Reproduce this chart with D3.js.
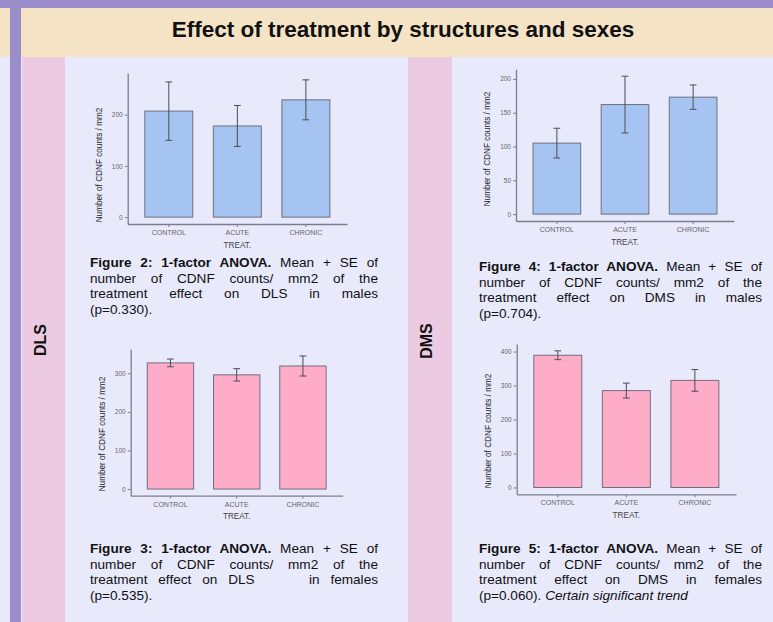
<!DOCTYPE html>
<html>
<head>
<meta charset="utf-8">
<script src="https://cdn.jsdelivr.net/npm/d3@7"></script>
<style>
  body { margin: 0; background: #e8eafc; font-family: "Liberation Sans", Arial, sans-serif; }
  #wrap { position: relative; width: 773px; height: 622px; overflow: hidden; }
  #wrap svg { position: absolute; left: 0; top: 0; }
  .cap { position: absolute; font-size: 13.6px; line-height: 15.6px; color: #111; }
  .cap div { text-align: justify; text-align-last: justify; white-space: normal; }
  .cap div.last { text-align-last: left; }
</style>
</head>
<body>
<div id="wrap"></div>
<script>
// treatments on the x axis
const treatments = ['CONTROL', 'ACUTE', 'CHRONIC'];

// mean and SE of CDNF counts / mm2
const dlsMaleMean = [207, 178, 229];
const dlsMaleSE   = [57, 40, 39];
const dmsMaleMean = [105, 162, 173];
const dmsMaleSE   = [22, 42, 18];
const dlsFemaleMean = [327, 296, 319];
const dlsFemaleSE   = [10, 16, 26];
const dmsFemaleMean = [389, 285, 315];
const dmsFemaleSE   = [13, 22, 32];

// y tick labels
const dlsMaleTicks   = [0, 100, 200];
const dmsMaleTicks   = [0, 50, 100, 150, 200];
const dlsFemaleTicks = [0, 100, 200, 300];
const dmsFemaleTicks = [0, 100, 200, 300, 400];

const W = 773, H = 622;
const blue = '#a6c4f1', pink = '#ffacc9';

const wrap = d3.select('#wrap');
const svg = wrap.append('svg').attr('width', W).attr('height', H);

// poster background blocks
svg.append('rect').attr('x', 0).attr('y', 0).attr('width', W).attr('height', H).attr('fill', '#e8eafc');
svg.append('rect').attr('x', 0).attr('y', 8).attr('width', W).attr('height', 49).attr('fill', '#f5e3c6');
svg.append('rect').attr('x', 0).attr('y', 0).attr('width', W).attr('height', 8).attr('fill', '#9b8dc9');
svg.append('rect').attr('x', 10).attr('y', 8).attr('width', 11).attr('height', H).attr('fill', '#9b8dc9');
svg.append('rect').attr('x', 22).attr('y', 57).attr('width', 43).attr('height', H).attr('fill', '#eccbe2');
svg.append('rect').attr('x', 408).attr('y', 57).attr('width', 44).attr('height', H).attr('fill', '#eccbe2');

svg.append('text')
  .attr('x', 403).attr('y', 37)
  .attr('text-anchor', 'middle')
  .style('font-size', '22.5px').style('font-weight', 'bold').style('fill', '#111')
  .text('Effect of treatment by structures and sexes');

[['DLS', 40, 340], ['DMS', 426, 341]].forEach(([t, cx, cy]) => {
  svg.append('text')
    .attr('transform', `translate(${cx},${cy}) rotate(-90)`)
    .attr('text-anchor', 'middle').attr('dy', '0.35em')
    .style('font-size', '16px').style('font-weight', 'bold').style('fill', '#111')
    .text(t);
});

const panels = [
  { mean: dlsMaleMean,   se: dlsMaleSE,   ticks: dlsMaleTicks,   fill: blue, x0: 127.7, x1: 347,   top: 73,    bottom: 224,   labelY: 165 },
  { mean: dmsMaleMean,   se: dmsMaleSE,   ticks: dmsMaleTicks,   fill: blue, x0: 516,   x1: 734,   top: 69.3,  bottom: 221,   labelY: 149 },
  { mean: dlsFemaleMean, se: dlsFemaleSE, ticks: dlsFemaleTicks, fill: pink, x0: 130.7, x1: 342.7, top: 349.3, bottom: 495.7, labelY: 434 },
  { mean: dmsFemaleMean, se: dmsFemaleSE, ticks: dmsFemaleTicks, fill: pink, x0: 516.7, x1: 736,   top: 344,   bottom: 494.3, labelY: 431 }
];

function drawChart(p) {
  const g = svg.append('g');
  const x = d3.scaleBand().domain(treatments).range([p.x0, p.x1])
    .paddingInner(0.3).paddingOuter(0.25);
  const maxV = d3.max(p.mean, (d, i) => d + p.se[i]);
  const y = d3.scaleLinear().domain([-0.05 * maxV, 1.05 * maxV]).range([p.bottom, p.top]);

  g.selectAll('rect.bar').data(treatments).join('rect')
    .attr('class', 'bar')
    .attr('x', d => x(d)).attr('width', x.bandwidth())
    .attr('y', (d, i) => y(p.mean[i]))
    .attr('height', (d, i) => y(0) - y(p.mean[i]))
    .attr('fill', p.fill).attr('stroke', '#6e6e7c').attr('stroke-width', 1);

  const cap = 3.4;
  const eb = g.selectAll('g.err').data(treatments).join('g').attr('class', 'err')
    .attr('stroke', '#4c4c58').attr('stroke-width', 1);
  eb.append('line')
    .attr('x1', d => x(d) + x.bandwidth() / 2).attr('x2', d => x(d) + x.bandwidth() / 2)
    .attr('y1', (d, i) => y(p.mean[i] - p.se[i])).attr('y2', (d, i) => y(p.mean[i] + p.se[i]));
  eb.append('line')
    .attr('x1', d => x(d) + x.bandwidth() / 2 - cap).attr('x2', d => x(d) + x.bandwidth() / 2 + cap)
    .attr('y1', (d, i) => y(p.mean[i] + p.se[i])).attr('y2', (d, i) => y(p.mean[i] + p.se[i]));
  eb.append('line')
    .attr('x1', d => x(d) + x.bandwidth() / 2 - cap).attr('x2', d => x(d) + x.bandwidth() / 2 + cap)
    .attr('y1', (d, i) => y(p.mean[i] - p.se[i])).attr('y2', (d, i) => y(p.mean[i] - p.se[i]));

  const yAx = g.append('g').attr('transform', `translate(${p.x0},0)`)
    .call(d3.axisLeft(y).tickValues(p.ticks).tickSize(3).tickSizeOuter(0).tickPadding(2));
  const xAx = g.append('g').attr('transform', `translate(0,${p.bottom})`)
    .call(d3.axisBottom(x).tickSize(3).tickSizeOuter(0).tickPadding(3));
  [yAx, xAx].forEach(a => {
    a.select('.domain').attr('stroke', '#7c7c8c').attr('stroke-width', 1.3);
    a.selectAll('.tick line').attr('stroke', '#7c7c8c');
    a.selectAll('.tick text').style('fill', '#666').style('font-family', '"Liberation Sans", Arial, sans-serif');
  });
  yAx.selectAll('.tick text').style('font-size', '6.5px');
  xAx.selectAll('.tick text').style('font-size', '7px');

  g.append('text')
    .attr('x', (p.x0 + p.x1) / 2).attr('y', p.bottom + 23.5)
    .attr('text-anchor', 'middle')
    .style('font-size', '8.2px').style('fill', '#444')
    .text('TREAT.');

  g.append('text')
    .attr('transform', `translate(${p.x0 - 29},${p.labelY}) rotate(-90)`)
    .attr('text-anchor', 'middle').attr('dy', '0.35em')
    .style('font-size', '8.2px').style('fill', '#222')
    .text('Number of CDNF counts / mm2');
}

panels.forEach(drawChart);

// figure captions (justified lines)
const captions = [
  { left: 90, top: 255, width: 288, lines: [
    '<b>Figure 2: 1-factor ANOVA.</b> Mean + SE of',
    'number of CDNF counts/ mm2 of the',
    'treatment effect on DLS in males',
    '(p=0.330).'] },
  { left: 479, top: 259, width: 283, lines: [
    '<b>Figure 4: 1-factor ANOVA.</b> Mean + SE of',
    'number of CDNF counts/ mm2 of the',
    'treatment effect on DMS in males',
    '(p=0.704).'] },
  { left: 90, top: 541, width: 288, lines: [
    '<b>Figure 3: 1-factor ANOVA.</b> Mean + SE of',
    'number of CDNF counts/ mm2 of the',
    'treatment effect on DLS&nbsp;&nbsp;&nbsp;&nbsp; in females',
    '(p=0.535).'] },
  { left: 479, top: 541, width: 283, lines: [
    '<b>Figure 5: 1-factor ANOVA.</b> Mean + SE of',
    'number of CDNF counts/ mm2 of the',
    'treatment effect on DMS in females',
    '(p=0.060). <i>Certain significant trend</i>'] }
];

captions.forEach(c => {
  const d = wrap.append('div').attr('class', 'cap')
    .style('left', c.left + 'px').style('top', c.top + 'px').style('width', c.width + 'px');
  d.selectAll('div').data(c.lines).join('div')
    .classed('last', (l, i) => i === c.lines.length - 1)
    .html(l => l);
});
</script>
</body>
</html>
